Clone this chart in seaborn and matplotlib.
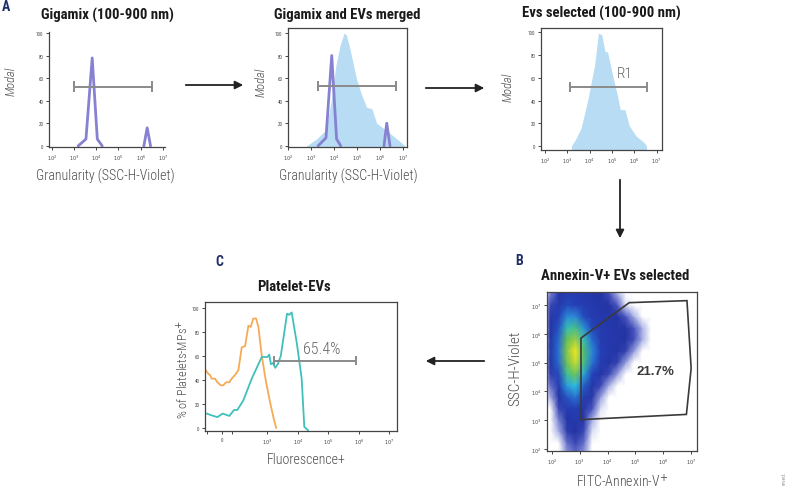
import numpy as np
import pandas as pd
import matplotlib
matplotlib.use("Agg")
import matplotlib.pyplot as plt
import seaborn as sns
from matplotlib.colors import LinearSegmentedColormap
from matplotlib.patches import Polygon, FancyArrowPatch

sns.set_style("ticks")
plt.rcParams["font.family"] = ["Roboto Condensed", "Liberation Sans Narrow", "Liberation Sans", "DejaVu Sans"]
plt.rcParams["mathtext.fontset"] = "dejavusans"

W, H = 791, 502

# ---- data ----
# A1: Gigamix beads, SSC-H-Violet (log10) vs % modal
giga1_log = [3.19, 3.54, 3.82, 4.05, 4.27, 6.14, 6.29, 6.44]
giga1_y = [0, 6, 78, 6, 0, 0, 16, 0]
giga1_peak = [1, 1, 1, 1, 1, 2, 2, 2]
giga1_gate = [3.0, 6.51, 52.6]

# A2: Gigamix merged with EVs
giga2_log = [3.30, 3.64, 3.89, 4.10, 4.28, 6.16, 6.28, 6.42]
giga2_y = [0, 7, 80, 6, 0, 0, 20, 0]
giga2_peak = [1, 1, 1, 1, 1, 2, 2, 2]
ev2_log = [2.80, 3.23, 3.64, 3.85, 4.07, 4.25, 4.43, 4.53, 4.68, 4.97, 5.19, 5.41, 5.63, 5.84, 6.42, 6.78, 7.07]
ev2_y = [0, 6, 14, 38, 71, 89, 100, 98, 86, 59, 45, 34, 33, 20, 11, 5, 0]
giga2_gate = [3.30, 6.67, 53]

# A3: EVs selected
ev3_log = [3.18, 3.37, 3.62, 3.92, 4.22, 4.39, 4.54, 4.69, 4.80, 5.03, 5.25, 5.37, 5.58, 5.77, 6.07, 6.44, 6.55]
ev3_y = [0, 5.9, 16, 41, 71, 99.4, 98, 83, 83, 62, 44, 32, 32, 18, 9, 3, 0]
r1_gate = [3.10, 6.59, 52]

# B: Annexin-V vs SSC density (estimated relative density on a log grid)
dens_lx = [1.65, 1.95, 2.25, 2.55, 2.85, 3.15, 3.45, 3.75, 4.05, 4.35, 4.65, 4.95, 5.25, 5.55]
dens_ly = [1.8, 2.2, 2.6, 3.0, 3.4, 3.8, 4.2, 4.6, 5.0, 5.4, 5.8, 6.2, 6.6, 7.0, 7.4, 7.8]
dens = [
    [0, 0, 0, 0.03, 0.05, 0.03, 0, 0, 0, 0, 0, 0, 0, 0],
    [0, 0, 0, 0.05, 0.08, 0.05, 0, 0, 0, 0, 0, 0, 0, 0],
    [0, 0, 0.02, 0.10, 0.13, 0.08, 0.01, 0, 0, 0, 0, 0, 0, 0],
    [0, 0, 0.04, 0.15, 0.18, 0.11, 0.02, 0, 0, 0, 0, 0, 0, 0],
    [0, 0, 0.08, 0.20, 0.24, 0.16, 0.06, 0.01, 0, 0, 0, 0, 0, 0],
    [0, 0.02, 0.13, 0.30, 0.36, 0.22, 0.11, 0.03, 0, 0, 0, 0, 0, 0],
    [0, 0.05, 0.20, 0.44, 0.50, 0.32, 0.17, 0.08, 0.02, 0, 0, 0, 0, 0],
    [0, 0.10, 0.28, 0.58, 0.70, 0.45, 0.26, 0.15, 0.08, 0.03, 0, 0, 0, 0],
    [0, 0.15, 0.34, 0.70, 0.90, 0.60, 0.36, 0.22, 0.15, 0.09, 0.03, 0, 0, 0],
    [0, 0.16, 0.36, 0.75, 1.00, 0.62, 0.40, 0.24, 0.18, 0.14, 0.09, 0.03, 0, 0],
    [0, 0.15, 0.34, 0.68, 0.80, 0.55, 0.34, 0.22, 0.18, 0.17, 0.13, 0.07, 0.02, 0],
    [0, 0.13, 0.30, 0.55, 0.60, 0.42, 0.27, 0.20, 0.18, 0.16, 0.12, 0.06, 0.02, 0],
    [0, 0.11, 0.24, 0.40, 0.40, 0.28, 0.20, 0.18, 0.16, 0.12, 0.06, 0.02, 0, 0],
    [0, 0.08, 0.19, 0.28, 0.26, 0.22, 0.18, 0.16, 0.12, 0.06, 0.01, 0, 0, 0],
    [0, 0.04, 0.16, 0.20, 0.20, 0.18, 0.16, 0.13, 0.07, 0.02, 0, 0, 0, 0],
    [0, 0.02, 0.14, 0.18, 0.18, 0.16, 0.14, 0.10, 0.04, 0, 0, 0, 0, 0],
]
gate_lx = [3.05, 4.78, 6.85, 7.0, 6.83, 3.05]
gate_ly = [5.85, 7.08, 7.15, 4.8, 3.2, 3.02]

# C: Platelet-EVs fluorescence histograms
ctrl_x = [-350, -292, -255, -219, -146, -95, -22, 36, 95, 168, 219, 292, 365, 438, 511, 584,
          635, 693, 752, 803, 876, 971, 1207, 1600, 1940]
ctrl_y = [48, 45, 44, 41, 41, 38, 35.5, 35.5, 38, 38, 41, 44, 48, 67, 68, 85,
          84, 91, 91, 84, 60, 38, 22, 8, 0]
plt_x = [-328, -219, -95, 22, 95, 168, 270, 343, 474, 657, 876, 949, 1000, 1150, 1300, 1520,
         1810, 2180, 2750, 4400, 5150, 6260, 9400, 13300, 16200, 21700]
plt_y = [12, 10.5, 9, 12, 11, 10, 15, 15, 23, 41, 59, 59, 59, 61, 53, 54,
         50, 53, 60, 95, 94, 96, 69, 41, 1, -2]
plt_gate = [1640, 8.1e5, 56]

PURPLE = "#8781d2"
EVBLUE = "#b7dcf3"
GATE = "#8a8a8a"
ORANGE = "#f6aa55"
TEAL = "#3fc0bd"
NAVY = "#1f2f66"
LABEL = "#4d4d4d"


def rect(x0, y0, x1, y1):
    return [x0 / W, 1 - y1 / H, (x1 - x0) / W, (y1 - y0) / H]


def ftext(x, y, s, **kw):
    fig.text(x / W, 1 - y / H, s, ha="center", va="center", **kw)


def style_ax(ax, box=True):
    for sp in ax.spines.values():
        sp.set_color("#444444")
        sp.set_linewidth(0.9)
    if not box:
        ax.spines["top"].set_visible(False)
        ax.spines["right"].set_visible(False)
    ax.tick_params(length=2.5, width=0.7, labelsize=3.6, pad=1.5, colors="#444444")
    ax.minorticks_off()
    ax.set_xlabel("")
    ax.set_ylabel("")


def log_ticks(ax, axis="x"):
    ticks = [10.0 ** k for k in range(2, 8)]
    labels = [f"$10^{k}$" for k in range(2, 8)]
    if axis == "x":
        ax.set_xticks(ticks, labels)
    else:
        ax.set_yticks(ticks, labels)


def gate_bar(ax, x0, x1, y, cap=4.5):
    ax.hlines(y, x0, x1, color=GATE, lw=1.4, zorder=5)
    ax.vlines([x0, x1], y - cap, y + cap, color=GATE, lw=1.4, zorder=5)


fig = plt.figure(figsize=(W / 100, H / 100), dpi=100)

# ---- A1 ----
ax1 = fig.add_axes(rect(49, 33, 165, 148))
d1 = pd.DataFrame({"x": 10 ** np.array(giga1_log), "y": giga1_y, "peak": giga1_peak})
ax1.set_xscale("log")
sns.lineplot(data=d1, x="x", y="y", units="peak", estimator=None, sort=False,
             color=PURPLE, lw=2, ax=ax1)
gate_bar(ax1, 10 ** giga1_gate[0], 10 ** giga1_gate[1], giga1_gate[2])
ax1.set_xlim(10 ** 1.88, 10 ** 7.09)
ax1.set_ylim(-1, 101)
ax1.set_yticks(range(0, 101, 20))
log_ticks(ax1)
style_ax(ax1, box=False)

# ---- A2 ----
ax2 = fig.add_axes(rect(288, 29, 407, 148))
ax2.set_xscale("log")
ax2.fill_between(10 ** np.array(ev2_log), ev2_y, -1.1, color=EVBLUE, lw=0)
d2 = pd.DataFrame({"x": 10 ** np.array(giga2_log), "y": giga2_y, "peak": giga2_peak})
sns.lineplot(data=d2, x="x", y="y", units="peak", estimator=None, sort=False,
             color=PURPLE, lw=2, ax=ax2)
gate_bar(ax2, 10 ** giga2_gate[0], 10 ** giga2_gate[1], giga2_gate[2])
ax2.set_xlim(10 ** 1.99, 10 ** 7.16)
ax2.set_ylim(-1.1, 104.4)
ax2.set_yticks(range(0, 101, 20))
log_ticks(ax2)
style_ax(ax2)

# ---- A3 ----
ax3 = fig.add_axes(rect(541, 29, 662, 151))
ax3.set_xscale("log")
ax3.fill_between(10 ** np.array(ev3_log), ev3_y, -3.5, color=EVBLUE, lw=0)
gate_bar(ax3, 10 ** r1_gate[0], 10 ** r1_gate[1], r1_gate[2])
ax3.text(10 ** 5.58, 64, "R1", ha="center", va="center", fontsize=11, color="#666666",
         fontweight="light")
ax3.set_xlim(10 ** 1.82, 10 ** 7.24)
ax3.set_ylim(-3.5, 103.9)
ax3.set_yticks(range(0, 101, 20))
log_ticks(ax3)
style_ax(ax3)

# ---- B ----
axb = fig.add_axes(rect(547, 293, 697, 452))
cmap = LinearSegmentedColormap.from_list("flow", [
    (0.0, "#ffffff"), (0.02, "#a7aee4"), (0.06, "#4552bd"), (0.12, "#2433a3"),
    (0.26, "#2541b8"), (0.38, "#2a7ed6"), (0.5, "#2dbfe0"), (0.65, "#56bd5a"),
    (0.85, "#b6d43c"), (1.0, "#f6e71e")])
axb.set_xscale("log")
axb.set_yscale("log")
axb.pcolormesh(10 ** np.array(dens_lx), 10 ** np.array(dens_ly), np.array(dens),
               shading="gouraud", cmap=cmap, vmin=0, vmax=1, rasterized=True)
axb.add_patch(Polygon(np.column_stack([10 ** np.array(gate_lx), 10 ** np.array(gate_ly)]),
                      closed=True, fill=False, ec="#3a3a3a", lw=1.2, zorder=5))
axb.text(10 ** 5.72, 10 ** 4.69, "21.7%", ha="center", va="center", fontsize=9.5,
         fontweight="bold", color="#3a3a3a", family=["Liberation Sans", "DejaVu Sans"])
axb.set_xlim(10 ** 1.83, 10 ** 7.21)
axb.set_ylim(10 ** 1.93, 10 ** 7.45)
log_ticks(axb, "x")
log_ticks(axb, "y")
style_ax(axb)

# ---- C ----
axc = fig.add_axes(rect(205, 303, 397, 432))
axc.set_xscale("symlog", linthresh=1000, linscale=1.35)
sns.lineplot(x=ctrl_x, y=ctrl_y, sort=False, color=ORANGE, lw=1.3, ax=axc)
sns.lineplot(x=plt_x, y=plt_y, sort=False, color=TEAL, lw=1.3, ax=axc)
gate_bar(axc, plt_gate[0], plt_gate[1], plt_gate[2], cap=3.5)
axc.text(59000, 66, "65.4%", ha="center", va="center", fontsize=11.5, color="#666666",
         fontweight="light")
axc.set_xlim(-365, 1.78e7)
axc.set_ylim(-2.5, 104.7)
axc.set_xticks([-314, 0, 219, 1e3, 1e4, 1e5, 1e6, 1e7],
               ["", "0", "", "$10^3$", "$10^4$", "$10^5$", "$10^6$", "$10^7$"])
axc.set_yticks(range(0, 101, 20))
style_ax(axc)

# ---- titles, labels ----
tkw = dict(fontsize=10.6, fontweight="bold", color="#1a1a1a")
ftext(107, 15, "Gigamix (100-900 nm)", **tkw)
ftext(347, 15, "Gigamix and EVs merged", **tkw)
ftext(601, 13, "Evs selected (100-900 nm)", **tkw)
ftext(615, 276, "Annexin-V+ EVs selected", **tkw)
ftext(294, 287, "Platelet-EVs", **tkw)

lkw = dict(fontsize=10, fontweight="bold", color=NAVY)
ftext(6, 7, "A", **lkw)
ftext(519, 261, "B", **lkw)
ftext(219, 262, "C", **lkw)

mkw = dict(fontsize=9, style="italic", rotation=90, color=LABEL, fontweight="light")
ftext(11, 81, "Modal", **mkw)
ftext(261, 82, "Modal", **mkw)
ftext(508, 87, "Modal", **mkw)

xkw = dict(fontsize=10, color=LABEL, fontweight="light")
ftext(105, 176, "Granularity (SSC-H-Violet)", **xkw)
ftext(348, 176, "Granularity (SSC-H-Violet)", **xkw)
ftext(306, 460, "Fluorescence+", **xkw)
ftext(622, 482, "FITC-Annexin-V$^{+}$", **xkw)
ftext(515, 368, "SSC-H-Violet", rotation=90, fontsize=11, color=LABEL, fontweight="light")
ftext(184, 369, "% of Platelets-MPs$^{+}$", rotation=90, fontsize=9, color=LABEL,
      fontweight="light")
ftext(784, 478, "erved.", rotation=90, fontsize=4, color="#999999")

# ---- arrows between panels ----
for (xa, ya), (xb, yb) in [((183, 86), (246, 86)), ((423, 89), (487, 89)),
                           ((620, 178), (620, 242)), ((487, 362), (423, 362))]:
    fig.add_artist(FancyArrowPatch((xa / W, 1 - ya / H), (xb / W, 1 - yb / H),
                                   transform=fig.transFigure, arrowstyle="-|>",
                                   mutation_scale=12, lw=1.3, color="#222222"))

fig.savefig("out.png", dpi=100)
